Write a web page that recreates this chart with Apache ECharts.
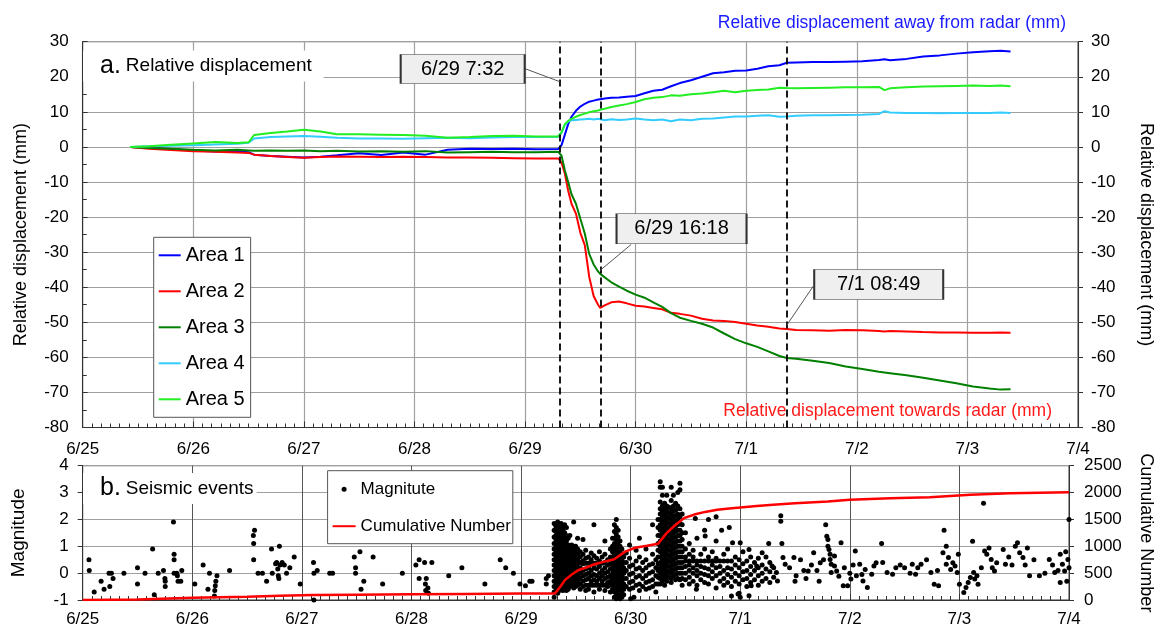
<!DOCTYPE html>
<html><head><meta charset="utf-8">
<script src="https://cdn.jsdelivr.net/npm/echarts@6/dist/echarts.min.js"></script>
<style>html,body{margin:0;padding:0;background:#fff}#c{width:1163px;height:628px}</style>
</head><body><div id="c"></div>
<script>
// x values are days since 6/25 00:00
const dateLabels = ['6/25','6/26','6/27','6/28','6/29','6/30','7/1','7/2','7/3','7/4'];

const dispTimes = [0.43,0.6,0.8,1.0,1.2,1.4,1.5,1.55,1.7,1.85,2.0,2.15,2.3,2.5,2.7,2.9,3.1,3.3,3.5,3.7,3.9,4.1,4.3,4.314,4.33,4.36,4.39,4.42,4.46,4.5,4.54,4.58,4.62,4.66,4.68,4.72,4.78,4.85,4.92,5.0,5.08,5.16,5.24,5.32,5.4,5.5,5.6,5.7,5.8,5.9,6.0,6.1,6.2,6.3,6.367,6.45,6.6,6.75,6.9,7.05,7.2,7.25,7.3,7.45,7.6,7.75,7.9,8.05,8.2,8.3,8.39];
const area1 = [0,-0.3,-0.6,-1.0,-1.3,-1.2,-1.5,-2.2,-2.6,-2.8,-3.0,-2.8,-2.4,-1.8,-2.3,-1.6,-2.2,-0.8,-0.5,-0.6,-0.5,-0.7,-0.6,-0.5,0.5,3.5,6.5,8.6,10.3,11.5,12.3,12.9,13.2,13.5,13.6,13.8,14.0,14.1,14.3,14.5,15.3,16.0,16.3,17.3,18.2,19.0,20.0,21.0,21.3,21.7,21.8,22.3,23.0,23.3,24.0,24.1,24.2,24.2,24.3,24.4,24.8,25.0,24.7,25.1,25.8,26.1,26.6,27.0,27.3,27.4,27.2];
const area2 = [0,-0.5,-0.9,-1.2,-1.4,-1.6,-1.7,-2.2,-2.6,-2.9,-3.1,-2.9,-2.7,-2.8,-2.9,-2.8,-2.9,-3.0,-3.0,-3.1,-3.2,-3.3,-3.3,-3.5,-4.5,-7.6,-12.5,-16.2,-19.0,-24.5,-28.0,-37.0,-42.5,-45.0,-45.9,-45.2,-44.3,-44.1,-44.6,-45.3,-45.5,-45.9,-46.3,-47.3,-47.6,-48.1,-49.0,-49.5,-49.6,-49.9,-50.4,-50.9,-51.3,-51.8,-51.9,-52.2,-52.3,-52.4,-52.2,-52.3,-52.5,-52.6,-52.5,-52.6,-52.8,-52.9,-52.9,-53.0,-53.0,-52.9,-53.0];
const area3 = [0,-0.3,-0.5,-0.8,-1.0,-0.8,-1.0,-1.1,-1.0,-1.1,-1.0,-1.2,-1.1,-1.3,-1.2,-1.4,-1.2,-1.6,-1.5,-1.4,-1.5,-1.5,-1.4,-1.4,-2.5,-6.7,-10.0,-13.5,-16.2,-20.5,-24.7,-30.5,-33.5,-35.5,-36.2,-37.2,-38.6,-39.8,-41.0,-42.1,-43.0,-44.3,-45.6,-47.4,-48.7,-49.6,-50.4,-51.5,-53.2,-54.8,-56.0,-57.0,-58.3,-59.6,-60.2,-60.4,-61.0,-61.6,-62.6,-63.3,-64.1,-64.3,-64.5,-65.1,-65.8,-66.6,-67.4,-68.3,-68.9,-69.2,-69.1];
const area4 = [0,0.2,0.3,0.5,0.7,0.9,1.2,2.4,2.8,3.0,3.1,2.9,2.6,2.4,2.4,2.3,2.5,2.6,2.5,2.7,2.8,2.8,2.9,3.0,4.0,6.2,7.2,7.6,7.7,7.8,7.9,8.0,7.8,8.0,7.9,7.6,7.9,7.7,7.8,8.1,7.8,7.6,7.8,7.3,7.8,7.6,8.0,8.1,8.4,8.7,8.7,8.9,9.0,8.6,8.7,8.9,9.0,9.0,9.1,9.2,9.4,10.2,9.8,9.7,9.7,9.6,9.7,9.7,9.7,9.8,9.7];
const area5 = [0,0.2,0.6,1.0,1.4,1.1,1.3,3.4,4.0,4.4,4.9,4.4,3.6,3.6,3.5,3.4,3.2,2.6,2.8,3.1,3.2,3.0,3.0,3.1,4.2,6.5,7.4,8.0,8.6,9.1,9.5,9.9,10.2,10.4,10.6,10.9,11.4,11.8,12.2,12.8,13.6,14.0,14.2,14.7,14.6,15.0,15.2,15.6,16.0,15.6,16.0,16.2,16.4,16.9,16.8,16.7,16.8,16.9,17.0,17.0,17.1,16.2,16.7,17.0,17.2,17.3,17.4,17.5,17.4,17.5,17.3];

const cumTimes  = [0,0.5,1.0,1.5,1.8,2.1,2.5,3.0,3.5,4.0,4.31,4.36,4.40,4.46,4.52,4.60,4.67,4.75,4.85,4.95,5.04,5.15,5.25,5.33,5.41,5.49,5.58,5.68,5.79,5.9,6.0,6.15,6.3,6.5,6.8,7.0,7.37,7.73,8.1,8.46,9.0];
const cumValues = [0,10,40,60,80,92,98,105,112,120,123,250,370,470,554,610,665,710,760,900,973,1010,1047,1250,1400,1527,1590,1640,1681,1705,1724,1750,1773,1800,1834,1865,1895,1914,1957,1988,2006];

// isolated events: [day, magnitude]
const quakeSparse = [
[0.057,0.5],[0.06,0.1],[0.105,-0.7],[0.168,-0.3],[0.195,-0.6],[0.24,0],[0.262,0],[0.247,-0.5],[0.277,-0.2],[0.376,0],[0.5,0.2],[0.5,-0.4],[0.569,0],[0.638,0.9],[0.653,-0.8],[0.689,0],[0.737,0.1],[0.75,-0.2],[0.753,-0.3],[0.753,-0.5],[0.828,1.9],[0.834,0.7],[0.834,0.5],[0.834,0],[0.858,0],[0.864,-0.1],[0.87,-0.3],[0.895,-0.3],[0.904,0.1],
[1.023,-0.4],[1.099,0.3],[1.143,-0.6],[1.157,0],[1.202,-0.85],[1.205,-0.65],[1.21,-0.47],[1.215,-0.3],[1.225,-0.1],[1.34,0.1],[1.557,1.4],[1.568,1.6],[1.56,1.1],[1.56,0.5],[1.6,0],[1.64,0],[1.678,-0.3],[1.723,0.9],[1.73,0],[1.795,1.0],[1.76,0.35],[1.77,0.4],[1.78,0.15],[1.785,-0.1],[1.79,-0.2],[1.8,0.3],[1.82,0.4],[1.84,0.3],[1.86,0],[1.89,0.2],[1.93,0.6],[1.985,-0.4],[2.106,0.4],[2.11,0],[2.14,0.1],[2.11,-1.0],[2.254,0],[2.28,0],[2.478,0.6],[2.49,0],[2.49,0.2],[2.53,0.8],[2.565,-0.3],[2.54,-0.6],[2.65,0.6],[2.737,-0.4],[2.917,0],[3.04,0.3],[3.07,0.5],[3.07,-0.2],[3.12,0.4],[3.127,-0.4],[3.13,-0.65],[3.135,-0.2],[3.15,-0.55],[3.155,-0.75],[3.186,0.4],[3.34,-0.1],[3.46,0.2],[3.67,-0.4],[3.81,0.5],[3.86,0.2],[3.93,0],[3.99,-0.4],[4.04,-0.47],[4.08,-0.3],[4.1,-0.3],[4.23,-0.2],[4.23,-0.4],[4.25,-0.1],
[5.0,-0.95],[5.03,-0.9],[5.6,-0.6],[5.92,-0.85],[6.0,-0.9],
[5.59,2.03],[5.71,2.0],[5.78,2.1],[5.9,1.7],[5.83,1.6],[5.68,1.38],[5.93,1.13],[6.0,1.13],[6.08,0.88],[6.1,-0.47],[5.98,-0.78],[6.08,-0.84],[6.15,0.27],[6.2,0.76],[6.26,1.1],[6.29,0.27],[6.33,0.02],[6.34,-0.29],[6.37,2.14],[6.37,1.93],[6.38,1.1],[6.39,0.58],[6.41,0.33],
[6.45,0.2],[6.49,0.58],[6.5,-0.3],[6.51,-0.1],[6.55,0.5],[6.58,0.1],[6.6,-0.2],[6.62,0.08],[6.65,0.3],[6.67,0.76],[6.7,0.1],[6.72,-0.3],[6.73,0.39],[6.76,0.5],[6.78,1.8],[6.79,1.37],[6.8,1.25],[6.8,1.0],[6.81,0.88],[6.82,0.7],[6.82,0.51],[6.83,0.33],[6.83,0.02],[6.86,0.27],[6.86,0.64],[6.88,0.08],[6.9,-0.12],[6.92,1.13],[6.94,-0.47],[6.95,0.2],[6.98,-0.47],[7.0,0],[7.01,-0.22],[7.03,0.3],[7.05,0.82],[7.06,-0.1],[7.09,0.33],[7.11,-0.05],[7.12,-0.29],[7.14,0.14],[7.16,-0.53],[7.2,-0.04],[7.22,0.27],[7.24,0.39],[7.29,1.1],[7.3,0.4],[7.34,0.02],[7.39,-0.04],[7.42,0.2],[7.46,0.3],[7.5,0.2],[7.55,0],[7.57,0.33],[7.6,-0.04],[7.62,0.2],[7.65,0.33],[7.7,0.5],[7.74,0.02],[7.77,-0.41],[7.8,0.1],[7.81,-0.47],[7.85,0.76],[7.86,1.6],[7.88,1.0],[7.88,0.33],[7.9,0.58],[7.92,0.14],[7.94,0.39],[7.96,0.27],[7.98,0.02],[7.99,0.7],[8.0,-0.41],[8.04,-0.72],[8.06,-0.53],[8.08,-0.35],[8.1,-0.16],[8.12,1.19],[8.13,0.02],[8.14,-0.22],[8.16,-0.1],[8.17,-0.41],[8.2,0.2],[8.22,2.6],[8.23,0.82],[8.25,0.7],[8.27,0.94],[8.29,0.51],[8.3,0.2],[8.32,0.08],[8.34,0.39],[8.4,0.88],[8.42,0.33],[8.45,0.6],[8.48,0.3],[8.51,1.0],[8.53,1.13],[8.55,0.76],[8.58,0.58],[8.6,0.3],[8.62,0.94],[8.64,-0.1],[8.68,0.5],[8.73,-0.1],[8.78,0],[8.82,0.51],[8.85,0.3],[8.87,0.02],[8.9,0.1],[8.92,0.7],[8.92,-0.35],[8.94,0.33],[8.96,0.08],[8.97,0.8],[8.98,-0.3],[8.99,0.51],[9.0,0.2],[9.0,2.0]
];
// swarm periods: [day, magnitude, magnitude, ...]
const quakeColumns = [
[4.302,1.85,1.6,1.35,1.1,0.9,0.7,0.5,0.3,0.1,-0.1,-0.3,-0.5,-0.7,-0.9],
[4.318,1.75,1.55,1.4,1.25,1.1,0.95,0.8,0.65,0.5,0.35,0.2,0.05,-0.1,-0.25,-0.4,-0.55,-0.7],
[4.334,1.9,1.7,1.5,1.35,1.2,1.05,0.9,0.75,0.6,0.45,0.3,0.15,0,-0.15,-0.3,-0.45,-0.6,-0.75],
[4.350,1.8,1.65,1.45,1.3,1.15,1.0,0.85,0.7,0.55,0.4,0.25,0.1,-0.05,-0.2,-0.35,-0.5,-0.65],
[4.366,1.85,1.7,1.55,1.4,1.2,1.05,0.9,0.75,0.6,0.45,0.3,0.15,0,-0.15,-0.3,-0.45,-0.6],
[4.382,1.75,1.6,1.45,1.3,1.15,1.0,0.85,0.7,0.55,0.4,0.25,0.1,-0.05,-0.2,-0.35,-0.5,-0.65],
[4.398,1.8,1.5,1.3,1.15,1.0,0.85,0.7,0.55,0.4,0.25,0.1,-0.05,-0.2,-0.35,-0.5,-0.6],
[4.414,1.7,1.4,1.2,1.0,0.85,0.7,0.55,0.4,0.25,0.1,-0.05,-0.2,-0.35,-0.5,-0.65],
[4.430,1.3,1.05,0.9,0.75,0.6,0.45,0.3,0.15,0,-0.15,-0.3,-0.45,-0.6],
[4.445,1.4,1.0,0.85,0.7,0.55,0.4,0.25,0.1,-0.05,-0.2,-0.35,-0.5],
[4.462,1.05,0.9,0.75,0.6,0.45,0.3,0.15,0,-0.15,-0.3,-0.45],
[4.48,1.9,1.0,0.8,0.65,0.5,0.35,0.2,0.05,-0.1,-0.25,-0.4,-0.55],
[4.498,1.0,0.85,0.7,0.55,0.4,0.25,0.1,-0.05,-0.2,-0.35,-0.5],
[4.516,1.3,0.9,0.7,0.5,0.35,0.2,0.05,-0.1,-0.3,-0.45],
[4.54,0.8,0.6,0.4,0.2,0,-0.2,-0.4,-0.6],
[4.565,1.25,0.7,0.45,0.35,0.1,-0.1,-0.3,-0.5],
[4.59,0.85,0.55,0.37,0.15,-0.05,-0.25,-0.45,-0.65],
[4.615,0.6,0.37,0.2,0,-0.2,-0.45,-0.6],
[4.64,0.75,0.5,0.37,0.1,-0.1,-0.3,-0.45],
[4.665,1.8,0.65,0.37,0.2,-0.05,-0.25,-0.45,-0.7],
[4.69,0.55,0.37,0.15,-0.1,-0.3,-0.45],
[4.715,0.8,0.45,0.25,0,-0.2,-0.45,-0.6],
[4.74,0.6,0.37,0.1,-0.1,-0.3,-0.45],
[4.765,1.2,0.7,0.4,0.2,0,-0.2,-0.45,-0.65],
[4.79,0.5,0.3,0.05,-0.15,-0.35,-0.5],
[4.815,0.9,0.6,0.35,0.15,-0.1,-0.3,-0.45,-0.7],
[4.835,1.3,1.0,0.8,0.6,0.4,0.2,0,-0.2,-0.4,-0.6],
[4.852,1.8,1.55,1.3,1.1,0.9,0.7,0.5,0.3,0.1,-0.1,-0.3,-0.5,-0.7,-0.9],
[4.869,2.0,1.7,1.45,1.25,1.05,0.85,0.65,0.45,0.25,0.05,-0.15,-0.35,-0.55,-0.75,-0.95],
[4.886,1.6,1.35,1.15,0.95,0.75,0.55,0.35,0.15,-0.05,-0.25,-0.45,-0.65,-0.85],
[4.903,1.2,1.0,0.8,0.6,0.4,0.2,0,-0.2,-0.4,-0.6,-0.8,-0.95],
[4.92,0.9,0.7,0.5,0.3,0.1,-0.1,-0.3,-0.5,-0.7,-0.9],
[4.937,0.6,0.4,0.2,0,-0.2,-0.4,-0.6,-0.8],
[4.96,0.75,0.4,0.1,-0.2,-0.5],
[4.99,1.05,0.55,0.25,-0.05,-0.35,-0.6],
[5.02,0.3,0,-0.3,-0.55],
[5.05,0.85,0.45,0.15,-0.15,-0.45],
[5.08,1.3,0.6,0.2,-0.1,-0.4,-0.65],
[5.11,0.4,0.1,-0.2,-0.5],
[5.14,0.9,0.5,0.2,-0.1,-0.35,-0.6],
[5.17,0.3,0,-0.3,-0.55],
[5.2,1.8,0.7,0.35,0.05,-0.25,-0.5],
[5.23,0.5,0.2,-0.1,-0.4,-0.7],
[5.25,2.0,1.7,1.4,1.1,0.85,0.6,0.35,0.1,-0.15,-0.4],
[5.27,3.4,3.2,2.65,2.4,2.2,2.0,1.8,1.6,1.4,1.2,1.0,0.8,0.6,0.4,0.2,0,-0.2,-0.4],
[5.29,3.2,2.9,2.5,2.3,2.1,1.9,1.7,1.5,1.3,1.1,0.9,0.7,0.5,0.3,0.1,-0.1,-0.3],
[5.31,2.6,2.4,2.2,2.0,1.8,1.6,1.4,1.2,1.0,0.8,0.6,0.4,0.2,0,-0.2,-0.45],
[5.33,2.9,2.5,2.3,2.1,1.9,1.7,1.5,1.3,1.1,0.9,0.7,0.5,0.3,0.1,-0.1,-0.3],
[5.35,2.45,2.25,2.05,1.85,1.65,1.45,1.25,1.05,0.85,0.65,0.45,0.25,0.05,-0.15],
[5.37,3.2,2.7,2.4,2.2,2.0,1.8,1.6,1.4,1.2,1.0,0.8,0.6,0.4,0.2,0,-0.2,-0.35],
[5.39,2.9,2.5,2.3,2.1,1.9,1.7,1.5,1.3,1.1,0.9,0.7,0.5,0.3,0.1,-0.1],
[5.41,2.6,2.35,2.15,1.95,1.75,1.55,1.35,1.15,0.95,0.75,0.55,0.35,0.15,-0.05,-0.25],
[5.43,3.0,2.5,2.2,2.0,1.8,1.6,1.4,1.2,1.0,0.8,0.6,0.4,0.2,0,-0.2],
[5.45,3.35,3.1,2.4,2.1,1.85,1.6,1.4,1.2,1.0,0.8,0.6,0.4,0.2,0,-0.25],
[5.47,2.2,1.8,1.5,1.25,1.0,0.8,0.6,0.4,0.2,0,-0.2,-0.45],
[5.5,1.5,0.9,0.6,0.45,0.25,0,-0.25],
[5.535,1.1,0.7,0.45,0.3,0.1,-0.15,-0.4],
[5.57,0.85,0.6,0.45,0.2,0,-0.3],
[5.605,1.3,0.45,0.3,0.1,-0.1,-0.45],
[5.64,0.7,0.45,0.25,0,-0.25],
[5.675,1.6,0.9,0.45,0.2,-0.05,-0.35],
[5.71,0.6,0.45,0.15,-0.1,-0.4],
[5.745,0.8,0.45,0.3,0.05,-0.2],
[5.78,1.2,0.55,0.45,0.2,-0.1,-0.55],
[5.815,0.45,0.25,0,-0.3],
[5.85,0.7,0.45,0.1,-0.2,-0.45],
[5.885,0.9,0.45,0.2,-0.05,-0.35],
[5.92,0.45,0.15,-0.15,-0.5],
[5.955,0.6,0.3,0,-0.3],
[5.99,0.5,0.2,-0.1,-0.4,-0.75],
[6.025,0.8,0.35,0.05,-0.25],
[6.06,0.45,0.1,-0.2,-0.5],
[6.095,0.6,0.25,-0.05,-0.35],
[6.13,0.4,0.1,-0.25],
[6.165,0.55,0.2,-0.1,-0.45],
[6.2,0.3,0,-0.3],
[6.235,0.6,0.15,-0.2],
[6.27,0.4,0.05,-0.35],
[6.305,0.2,-0.15]
];

const eventTimes  = [4.314, 4.679, 6.367];
const eventLabels = ['6/29 7:32', '6/29 16:18', '7/1 08:49'];

const quakePoints = quakeSparse.slice();
quakeColumns.forEach(c => c.slice(1).forEach(m => quakePoints.push([c[0], m])));
const pairs = (ts, vs) => ts.map((t, i) => [t, vs[i]]);

const FONT = 'Liberation Sans, Arial, sans-serif';
const AX = '#333';
const GRIDC = '#a0a0a0';

function xAx(gi, margin, splitColor, splitW) {
  return {
    gridIndex: gi, type: 'value', min: 0, max: 9, interval: 1,
    axisLine: { show: true, onZero: false, lineStyle: { color: AX, width: 1 } },
    axisTick: { show: true, inside: true, length: 6, lineStyle: { color: AX } },
    minorTick: { show: true, splitNumber: 12, length: 4, lineStyle: { color: AX } },
    axisLabel: { formatter: v => dateLabels[Math.round(v)], margin: margin, fontSize: 17, color: '#000', fontFamily: FONT },
    splitLine: { show: true, lineStyle: { color: splitColor, width: splitW } }
  };
}

const areaColors = ['#0000ff', '#ff0000', '#008000', '#33ccff', '#22ee22'];
const areaData = [area1, area2, area3, area4, area5];

const series = areaData.map((vals, i) => ({
  name: 'Area ' + (i + 1), type: 'line', xAxisIndex: 0, yAxisIndex: 0,
  data: pairs(dispTimes, vals), symbol: 'none', showSymbol: false,
  lineStyle: { color: areaColors[i], width: 2 }, itemStyle: { color: areaColors[i] }, z: 3
}));

series.push({
  name: 'events', type: 'line', xAxisIndex: 0, yAxisIndex: 0, data: [], z: 5,
  markLine: {
    silent: true, symbol: ['none', 'none'], label: { show: false },
    lineStyle: { color: '#555', width: 1, type: 'solid' },
    data: [
      { xAxis: eventTimes[0], lineStyle: { color: '#000', width: 1.8, type: [7, 4] } },
      { xAxis: eventTimes[1], lineStyle: { color: '#000', width: 1.8, type: [7, 4] } },
      { xAxis: eventTimes[2], lineStyle: { color: '#000', width: 1.8, type: [7, 4] } },
      [{ coord: [3.992, 22.4] }, { coord: [eventTimes[0], 18.6] }],
      [{ coord: [4.960, -27.8] }, { coord: [eventTimes[1], -35.2] }],
      [{ coord: [6.606, -39.7] }, { coord: [eventTimes[2], -50.8] }]
    ]
  },
  markPoint: {
    silent: true, symbol: 'rect',
    itemStyle: { color: '#efefef', borderColor: '#333', borderWidth: 1 },
    label: { show: true, position: 'inside', formatter: '{b}', fontSize: 20, color: '#000', fontFamily: FONT },
    data: [
      { name: eventLabels[0], coord: [3.436, 22.2], symbolSize: [124, 29] },
      { name: eventLabels[1], coord: [5.415, -23.3], symbolSize: [130, 30] },
      { name: eventLabels[2], coord: [7.198, -39.2], symbolSize: [129, 30] }
    ]
  }
});

series.push({
  name: 'Magnitute', type: 'scatter', xAxisIndex: 1, yAxisIndex: 2,
  data: quakePoints, symbol: 'circle', symbolSize: 5, itemStyle: { color: '#000', opacity: 1 }, z: 2
});
series.push({
  name: 'Cumulative Number', type: 'line', xAxisIndex: 1, yAxisIndex: 3,
  data: pairs(cumTimes, cumValues), symbol: 'none', showSymbol: false,
  lineStyle: { color: '#ff0000', width: 2.5 }, itemStyle: { color: '#ff0000' }, z: 4
});

const noDot = { opacity: 0 };

const option = {
  animation: false,
  backgroundColor: '#fff',
  textStyle: { fontFamily: FONT },
  title: [
    { text: '{a|a.} {b|Relative displacement}', left: 83, top: 52, backgroundColor: '#fff', padding: [3, 12, 3, 17],
      textStyle: { fontWeight: 'normal', rich: {
        a: { fontSize: 25, color: '#000', lineHeight: 22, fontFamily: FONT },
        b: { fontSize: 19, color: '#000', lineHeight: 22, fontFamily: FONT } } } },
    { text: '{a|b.} {b|Seismic events}', left: 83, top: 474, backgroundColor: '#fff', padding: [3, 3, 3, 17],
      textStyle: { fontWeight: 'normal', rich: {
        a: { fontSize: 25, color: '#000', lineHeight: 23, fontFamily: FONT },
        b: { fontSize: 19, color: '#000', lineHeight: 23, fontFamily: FONT } } } },
    { text: 'Relative displacement away from radar (mm)', right: 97, top: 14, padding: 0,
      textStyle: { color: '#1a1aff', fontSize: 17.5, fontWeight: 'normal', fontFamily: FONT } },
    { text: 'Relative displacement towards radar (mm)', right: 111, top: 402, padding: 0,
      textStyle: { color: '#ff1a1a', fontSize: 17.5, fontWeight: 'normal', fontFamily: FONT } }
  ],
  legend: [
    { data: ['Area 1', 'Area 2', 'Area 3', 'Area 4', 'Area 5'].map(n => ({ name: n, itemStyle: noDot })),
      orient: 'vertical', left: 153.7, top: 237.3,
      itemWidth: 22, itemHeight: 14, itemGap: 16, padding: [8, 6, 8, 4], backgroundColor: '#fff',
      borderColor: '#555', borderWidth: 1, borderRadius: 0, selectedMode: false,
      textStyle: { fontSize: 20, color: '#000', fontFamily: FONT } },
    { data: [{ name: 'Magnitute', icon: 'circle' }, { name: 'Cumulative Number', itemStyle: noDot }],
      orient: 'vertical', left: 327.6, top: 470.7,
      itemWidth: 23, itemHeight: 5, itemGap: 20, padding: [10, 2, 9, 4], backgroundColor: '#fff',
      borderColor: '#555', borderWidth: 1, borderRadius: 0, selectedMode: false,
      textStyle: { fontSize: 17, color: '#000', fontFamily: FONT } }
  ],
  grid: [
    { left: 82.7, right: 84.3, top: 41.7, height: 385.8, show: true, borderColor: AX, borderWidth: 1, backgroundColor: 'transparent' },
    { left: 82.7, right: 84.3, top: 465.7, height: 135.3, show: true, borderColor: AX, borderWidth: 1, backgroundColor: 'transparent' }
  ],
  xAxis: [xAx(0, 13, GRIDC, 1.2), xAx(1, 11, '#555', 1)],
  yAxis: [
    { gridIndex: 0, type: 'value', position: 'left', min: -80, max: 30, interval: 10,
      name: 'Relative displacement (mm)', nameLocation: 'middle', nameGap: 53,
      nameTextStyle: { fontSize: 18, color: '#000', fontFamily: FONT },
      axisLine: { show: true, lineStyle: { color: AX } },
      axisTick: { show: true, inside: true, length: 5, lineStyle: { color: AX } },
      minorTick: { show: true, splitNumber: 2, length: 4, lineStyle: { color: AX } },
      axisLabel: { margin: 14, fontSize: 17, color: '#000', fontFamily: FONT },
      splitLine: { show: true, lineStyle: { color: GRIDC, width: 1.2 } } },
    { gridIndex: 0, type: 'value', position: 'right', min: -80, max: 30, interval: 10,
      name: 'Relative displacement (mm)', nameLocation: 'middle', nameRotate: -90, nameGap: 59,
      nameTextStyle: { fontSize: 18, color: '#000', fontFamily: FONT },
      axisLine: { show: true, lineStyle: { color: AX } },
      axisTick: { show: true, inside: false, length: 5, lineStyle: { color: AX } },
      axisLabel: { margin: 13, fontSize: 17, color: '#000', fontFamily: FONT },
      splitLine: { show: false } },
    { gridIndex: 1, type: 'value', position: 'left', min: -1, max: 4, interval: 1,
      name: 'Magnitude', nameLocation: 'middle', nameGap: 54,
      nameTextStyle: { fontSize: 19, color: '#000', fontFamily: FONT },
      axisLine: { show: true, lineStyle: { color: AX } },
      axisTick: { show: true, inside: false, length: 5, lineStyle: { color: AX } },
      axisLabel: { margin: 14, fontSize: 17, color: '#000', fontFamily: FONT },
      splitLine: { show: true, lineStyle: { color: GRIDC, width: 1.2 } } },
    { gridIndex: 1, type: 'value', position: 'right', min: 0, max: 2500, interval: 500,
      name: 'Cumulative Number', nameLocation: 'middle', nameRotate: -90, nameGap: 68,
      nameTextStyle: { fontSize: 18, color: '#000', fontFamily: FONT },
      axisLine: { show: true, lineStyle: { color: AX } },
      axisTick: { show: true, inside: false, length: 5, lineStyle: { color: AX } },
      axisLabel: { margin: 15, fontSize: 17, color: '#000', fontFamily: FONT, formatter: v => String(v) },
      splitLine: { show: false } }
  ],
  series: series
};

const chart = echarts.init(document.getElementById('c'), null, { renderer: 'canvas' });
chart.setOption(option);
</script>
</body></html>
